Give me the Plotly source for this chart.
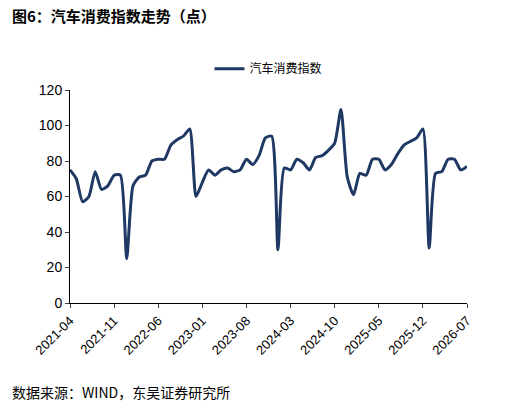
import plotly.graph_objects as go
import pandas as pd

months = pd.date_range("2021-04-01", "2026-07-01", freq="MS").strftime("%Y-%m").tolist()
values = [75, 70, 57, 60, 74, 64, 66, 72, 72, 25, 66, 71, 72, 80, 81, 81, 89, 92, 94, 98,
          60, 68, 75, 72, 75, 76, 74, 75, 81, 78, 83, 93, 94, 30, 76, 75, 81, 79, 75, 82,
          83, 86, 90, 109, 71, 61, 73, 72, 81, 81, 75, 78, 84, 89, 91, 93, 98, 31, 73, 74,
          81, 81, 75, 77]
tick_labels = months[::7]

fig = go.Figure()
fig.add_trace(go.Scatter(
    x=months, y=values, mode="lines", name="汽车消费指数",
    line=dict(color="#1f3864", width=3, shape="spline", smoothing=0.6),
))

fig.update_layout(
    width=501, height=405,
    margin=dict(l=62, r=42, t=82, b=110, autoexpand=False),
    plot_bgcolor="white", paper_bgcolor="white",
    font=dict(family="Noto Sans CJK SC", size=13, color="black"),
    showlegend=True,
    legend=dict(orientation="h", x=0.5, xanchor="center", y=1.1, yanchor="middle",
                font=dict(size=12)),
    xaxis=dict(
        type="category", tickvals=tick_labels, ticktext=tick_labels, tickangle=-45,
        showline=True, linecolor="black", ticks="outside", ticklen=4, automargin=False,
        tickfont=dict(family="Arial", size=13), showgrid=False, range=[0, len(months) - 1],
    ),
    yaxis=dict(
        range=[0, 120], dtick=20, showline=True, linecolor="black", ticks="outside",
        ticklen=4, tickfont=dict(family="Arial", size=14), showgrid=False, automargin=False,
    ),
    annotations=[
        dict(text="<b>图6：汽车消费指数走势（点）</b>", xref="paper", yref="paper",
             x=-0.15, y=1.35, xanchor="left", yanchor="middle", showarrow=False,
             font=dict(size=15)),
        dict(text="数据来源：WIND，东吴证券研究所", xref="paper", yref="paper",
             x=-0.15, y=-0.42, xanchor="left", yanchor="middle", showarrow=False,
             font=dict(size=14)),
    ],
)

fig.write_html("out.html")
